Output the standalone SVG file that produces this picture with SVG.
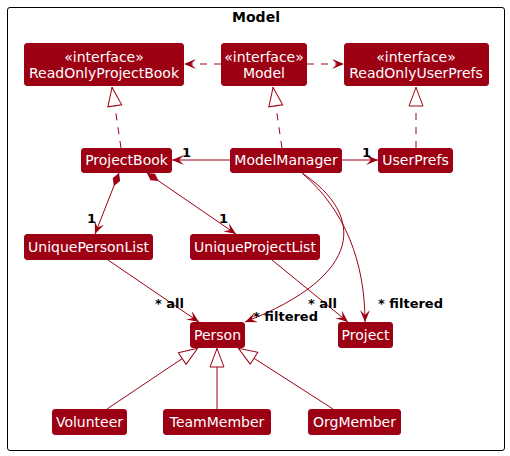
<svg xmlns="http://www.w3.org/2000/svg" width="510" height="456" viewBox="0 0 510 456">
<style>
.n{fill:#9D0012;stroke:#9D0012;stroke-width:1}
.t{fill:#FFFFFF;font-family:"DejaVu Sans",sans-serif;font-size:14px;text-anchor:middle}
.e{fill:none;stroke:#9D0012;stroke-width:1}
.d{stroke-dasharray:7,7}
.l{fill:#000000;font-family:"DejaVu Sans",sans-serif;font-size:13px;font-weight:bold}
</style>
<defs>
<marker id="arr" viewBox="0 0 12 10" refX="12" refY="5" markerWidth="12" markerHeight="10" markerUnits="userSpaceOnUse" orient="auto">
<path d="M0,0 L12,5 L0,10 L5,5 Z" fill="#9D0012"/>
</marker>
<marker id="tri" viewBox="0 0 20 16" refX="20" refY="8" markerWidth="20" markerHeight="16" markerUnits="userSpaceOnUse" orient="auto">
<path d="M1,1 L19.5,8 L1,15 Z" fill="#FFFFFF" stroke="#9D0012" stroke-width="1"/>
</marker>
<marker id="dia" viewBox="0 0 14 10" refX="0" refY="5" markerWidth="14" markerHeight="10" markerUnits="userSpaceOnUse" orient="auto">
<path d="M0,5 L7,1 L14,5 L7,9 Z" fill="#9D0012"/>
</marker>
</defs>
<rect x="7.5" y="7.5" width="497" height="443" rx="2.5" fill="none" stroke="#000000" stroke-width="1"/>
<text x="256" y="22" font-family="'DejaVu Sans',sans-serif" font-size="14" font-weight="bold" text-anchor="middle">Model</text>
<g id="connectors">
<line class="e d" x1="221" y1="64" x2="184" y2="64" marker-end="url(#arr)"/>
<line class="e d" x1="307" y1="64" x2="344" y2="64" marker-end="url(#arr)"/>
<line class="e d" x1="121" y1="148" x2="112" y2="87" marker-end="url(#tri)"/>
<line class="e d" x1="282" y1="148" x2="273" y2="87" marker-end="url(#tri)"/>
<line class="e d" x1="416" y1="148" x2="416" y2="87" marker-end="url(#tri)"/>
<line class="e" x1="230" y1="160" x2="172" y2="160" marker-end="url(#arr)"/>
<line class="e" x1="342" y1="160" x2="378" y2="160" marker-end="url(#arr)"/>
<line class="e" x1="119" y1="173" x2="95" y2="234" marker-start="url(#dia)" marker-end="url(#arr)"/>
<line class="e" x1="147" y1="173" x2="236" y2="234" marker-start="url(#dia)" marker-end="url(#arr)"/>
<line class="e" x1="108" y1="260" x2="199" y2="322" marker-end="url(#arr)"/>
<line class="e" x1="272" y1="260" x2="348" y2="322" marker-end="url(#arr)"/>
<path class="e" d="M302,173 C365,215 365,275 245,322" marker-end="url(#arr)"/>
<path class="e" d="M302,173 C345,210 365,262 365,322" marker-end="url(#arr)"/>
<line class="e" x1="107" y1="409" x2="198" y2="348" marker-end="url(#tri)"/>
<line class="e" x1="217" y1="409" x2="217" y2="348" marker-end="url(#tri)"/>
<line class="e" x1="333" y1="409" x2="238" y2="348" marker-end="url(#tri)"/>
<text class="l" x="182" y="157">1</text>
<text class="l" x="362" y="157">1</text>
<text class="l" x="87" y="223">1</text>
<text class="l" x="219" y="223">1</text>
<text class="l" x="155" y="308">* all</text>
<text class="l" x="253" y="321">* filtered</text>
<text class="l" x="308" y="308">* all</text>
<text class="l" x="378" y="308">* filtered</text>
</g>
<g id="ReadOnlyProjectBook"><rect class="n" x="24.5" y="43.5" width="159" height="42" rx="2.5"/><text class="t" x="104" y="62">«interface»</text><text class="t" x="104" y="78">ReadOnlyProjectBook</text></g>
<g id="Model"><rect class="n" x="221.5" y="43.5" width="85" height="42" rx="2.5"/><text class="t" x="264" y="62">«interface»</text><text class="t" x="264" y="78">Model</text></g>
<g id="ReadOnlyUserPrefs"><rect class="n" x="344.5" y="43.5" width="144" height="42" rx="2.5"/><text class="t" x="416" y="62">«interface»</text><text class="t" x="416" y="78">ReadOnlyUserPrefs</text></g>
<g id="ProjectBook"><rect class="n" x="81.5" y="148.5" width="90" height="24" rx="2.5"/><text class="t" x="126.5" y="165">ProjectBook</text></g>
<g id="ModelManager"><rect class="n" x="230.5" y="148.5" width="111" height="24" rx="2.5"/><text class="t" x="286" y="165">ModelManager</text></g>
<g id="UserPrefs"><rect class="n" x="378.5" y="148.5" width="74" height="24" rx="2.5"/><text class="t" x="415.5" y="165">UserPrefs</text></g>
<g id="UniquePersonList"><rect class="n" x="24.5" y="234.5" width="128" height="25" rx="2.5"/><text class="t" x="88.5" y="252">UniquePersonList</text></g>
<g id="UniqueProjectList"><rect class="n" x="190.5" y="234.5" width="129" height="25" rx="2.5"/><text class="t" x="255" y="252">UniqueProjectList</text></g>
<g id="Person"><rect class="n" x="190.5" y="322.5" width="54" height="25" rx="2.5"/><text class="t" x="217.5" y="340">Person</text></g>
<g id="Project"><rect class="n" x="338.5" y="322.5" width="54" height="25" rx="2.5"/><text class="t" x="365.5" y="340">Project</text></g>
<g id="Volunteer"><rect class="n" x="52.5" y="409.5" width="74" height="25" rx="2.5"/><text class="t" x="89.5" y="427">Volunteer</text></g>
<g id="TeamMember"><rect class="n" x="163.5" y="409.5" width="107" height="25" rx="2.5"/><text class="t" x="217" y="427">TeamMember</text></g>
<g id="OrgMember"><rect class="n" x="308.5" y="409.5" width="92" height="25" rx="2.5"/><text class="t" x="354.5" y="427">OrgMember</text></g>
</svg>
